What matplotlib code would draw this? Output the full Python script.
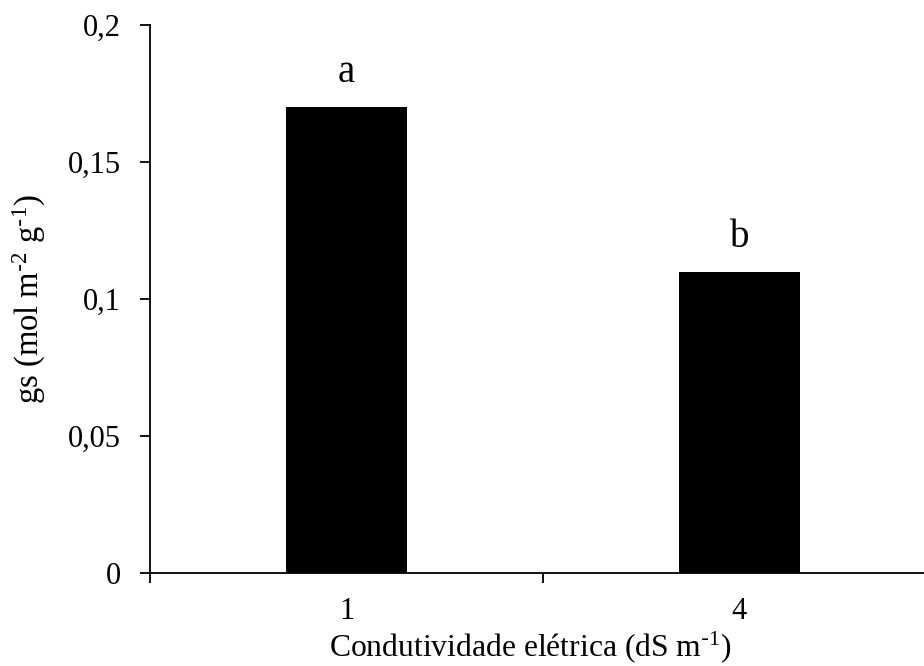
import matplotlib
matplotlib.use("Agg")
import matplotlib.pyplot as plt
import numpy as np

categories = ["1", "4"]
values = [0.17, 0.11]
letters = ["a", "b"]
yticks = [0, 0.05, 0.1, 0.15, 0.2]
ytick_labels = ["0", "0,05", "0,1", "0,15", "0,2"]

plt.rcParams['font.family'] = ['Liberation Serif', 'DejaVu Serif']
plt.rcParams['mathtext.default'] = 'regular'

fig = plt.figure(figsize=(9.24, 6.66), dpi=100)
W, H = 924, 666
ax = fig.add_axes([150 / W, 1 - 573 / H, 786 / W, 548 / H])

x = np.arange(len(categories))
ax.bar(x, values, width=0.31, color='black')
for xi, v, l in zip(x, values, letters):
    ax.annotate(l, (xi, v), xytext=(0, 18), textcoords='offset points',
                ha='center', va='baseline', fontsize=28)

ax.set_xlim(-0.5, 1.5)
ax.set_ylim(0, 0.2)
ax.set_yticks(yticks)
ax.set_yticklabels(ytick_labels)
ax.set_xticks([-0.5, 0.5, 1.5], minor=False)
ax.set_xticklabels(["", "", ""])
ax.set_xticks(x, minor=True)
ax.set_xticklabels(categories, minor=True)
ax.tick_params(axis='x', which='minor', length=0, pad=17, labelsize=22)
ax.tick_params(axis='x', which='major', length=7, width=1.3, direction='out')
ax.tick_params(axis='y', length=7, width=1.3, direction='out', labelsize=22, pad=14)

for s in ['top', 'right']:
    ax.spines[s].set_visible(False)
for s in ['left', 'bottom']:
    ax.spines[s].set_linewidth(1.3)

ax.set_xlabel("Condutividade elétrica (dS m$^{\\text{-}1}$)", fontsize=22.8)
ax.xaxis.set_label_coords((530 - 150) / 786, (573 - 629) / 548)
ax.set_ylabel("gs (mol m$^{\\text{-}2}$ g$^{\\text{-}1}$)", fontsize=23.5, labelpad=14)

fig.savefig("out.png", dpi=100)
